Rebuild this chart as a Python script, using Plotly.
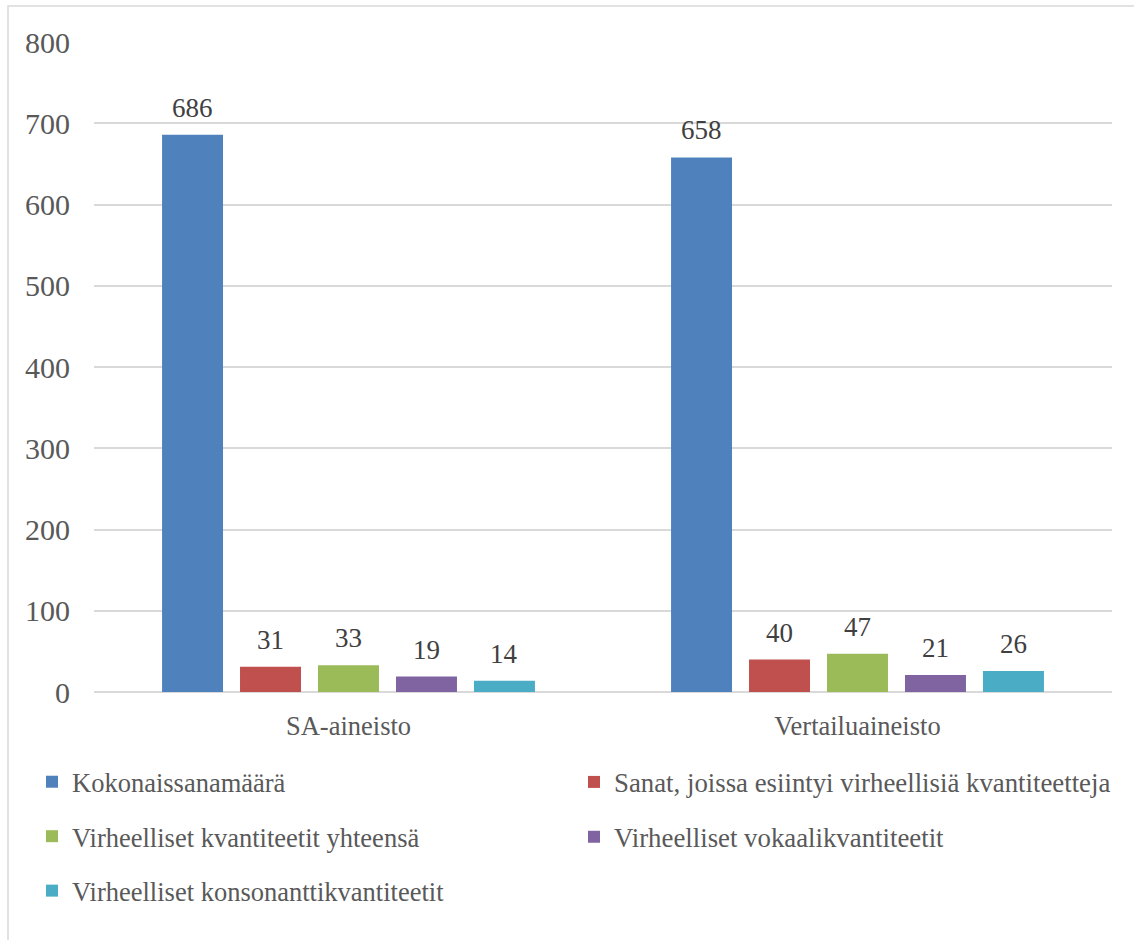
import plotly.graph_objects as go

categories = ["SA-aineisto", "Vertailuaineisto"]
series_names = [
    "Kokonaissanamäärä",
    "Sanat, joissa esiintyi virheellisiä kvantiteetteja",
    "Virheelliset kvantiteetit yhteensä",
    "Virheelliset vokaalikvantiteetit",
    "Virheelliset konsonanttikvantiteetit",
]
kokonais = [686, 658]
sanat = [31, 40]
yhteensa = [33, 47]
vokaali = [19, 21]
konsonantti = [14, 26]
values = [kokonais, sanat, yhteensa, vokaali, konsonantti]
colors = ["#4f81bd", "#c0504d", "#9bbb59", "#8064a2", "#4bacc6"]
legend_of = ["legend", "legend2", "legend", "legend2", "legend"]

FONT = "Liberation Serif, Times New Roman, serif"
BARGAP = 0.234
fig = go.Figure()
n = len(values)
annotations = []
for i, (name, vals) in enumerate(zip(series_names, values)):
    fig.add_trace(go.Bar(
        x=categories, y=vals, name=name,
        marker=dict(color=colors[i], line=dict(width=0)),
        legend=legend_of[i], legendgroup=name,
    ))
    for c, v in enumerate(vals):
        annotations.append(dict(
            x=c + ((i + 0.5) / n - 0.5) * (1 - BARGAP), y=v, xref="x", yref="y",
            text=str(v), showarrow=False, xanchor="center", yanchor="bottom",
            yshift=10, font=dict(family=FONT, size=27, color="#404040"),
        ))

W, H = 1134, 940
ml, mr, mt, mb = 94, 22, 42, 248
pw, ph = W - ml - mr, H - mt - mb

def px_x(x):
    return (x - ml) / pw

def px_y(y):
    return (H - mb - y) / ph

fig.update_layout(
    width=W, height=H,
    margin=dict(l=ml, r=mr, t=mt, b=mb, autoexpand=False),
    paper_bgcolor="white", plot_bgcolor="white",
    barmode="group", bargap=BARGAP, bargroupgap=0.218,
    font=dict(family=FONT, color="#595959"),
    showlegend=True,
    annotations=annotations,
    legend=dict(
        x=px_x(32), y=px_y(758), xanchor="left", yanchor="top",
        orientation="v", tracegroupgap=17,
        font=dict(family=FONT, size=26.5, color="#595959"),
        bgcolor="rgba(0,0,0,0)", itemclick=False,
    ),
    legend2=dict(
        x=px_x(574), y=px_y(758), xanchor="left", yanchor="top",
        orientation="v", tracegroupgap=17,
        font=dict(family=FONT, size=26.8, color="#595959"),
        bgcolor="rgba(0,0,0,0)", itemclick=False,
    ),
    xaxis=dict(
        showgrid=False, showline=False, ticks="",
        tickfont=dict(family=FONT, size=26.5, color="#595959"),
        ticklabelstandoff=15,
    ),
    yaxis=dict(
        range=[0, 800], dtick=100, showgrid=True, gridcolor="#d9d9d9", gridwidth=1.5,
        zeroline=True, zerolinecolor="#d9d9d9", zerolinewidth=1.5,
        showline=False, ticks="",
        tickfont=dict(family=FONT, size=30, color="#595959"),
        ticklabelstandoff=23,
    ),
    shapes=[dict(
        type="rect", xref="paper", yref="paper",
        x0=px_x(8), x1=px_x(1150), y0=px_y(960), y1=px_y(6),
        line=dict(color="#d9d9d9", width=1.5), fillcolor="rgba(0,0,0,0)", layer="below",
    )],
)

fig.write_html("out.html")
